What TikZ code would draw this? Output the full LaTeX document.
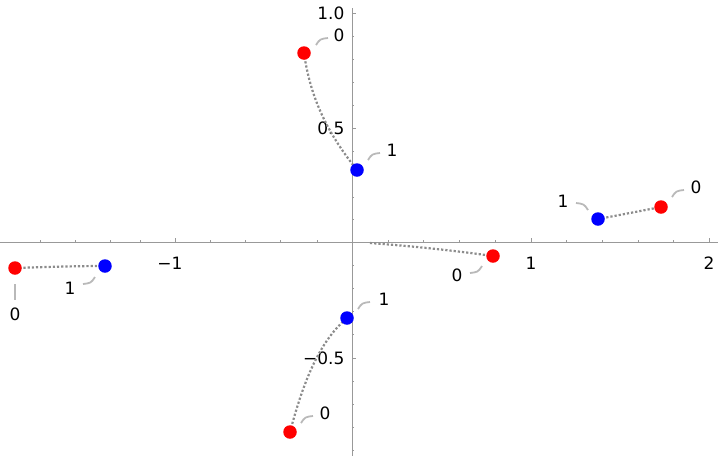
\documentclass[tikz,border=0pt]{standalone}
\usepackage{fontspec}
\setmainfont{DejaVu Sans}
\begin{document}
\begin{tikzpicture}[x=1pt,y=-1pt,
  red/.style={circle,fill={rgb,255:red,255;green,0;blue,0},inner sep=0pt,minimum size=13.5pt},
  blue/.style={circle,fill={rgb,255:red,0;green,0;blue,255},inner sep=0pt,minimum size=13.5pt},
  trail/.style={line width=2.2pt,dotted,color=gray!90},
  lead/.style={line width=1.8pt,color=gray!55},
  lab/.style={font=\fontsize{17}{17}\selectfont},
  ax/.style={color=gray!80,line width=0.6pt}]
\useasboundingbox (0,0) rectangle (720,456);
% axes
\draw[ax] (0,242) -- (718,242);
\draw[ax] (352,8) -- (352,456);
\foreach \x in {175,531,709}{\draw[ax] (\x,242) -- (\x,238);}
\foreach \x in {40,75,110,140,210,245,280,317,388,423,459,495,566,602,638,673}{\draw[ax] (\x,242) -- (\x,240);}
\foreach \y in {13,128,358}{\draw[ax] (352,\y) -- (356,\y);}
\foreach \y in {36,59,82,105,151,174,197,219,265,288,311,334,381,404,427,450}{\draw[ax] (352,\y) -- (354,\y);}
\node[lab] (tm1) at (170,263) {−1};
\node[lab] (t1) at (531,263) {1};
\node[lab] (t2) at (709,263) {2};
\node[lab,anchor=east] (ty1) at (348,13) {1.0};
\node[lab,anchor=east] (ty05) at (348,128) {0.5};
\node[lab,anchor=east] (tym05) at (348,358) {−0.5};
% trails
\coordinate (o) at (370,243);
\coordinate (r1) at (15,268);
\coordinate (b1) at (105,266);
\coordinate (r2) at (304,53);
\coordinate (b2) at (357,170);
\coordinate (r3) at (661,207);
\coordinate (b3) at (598,219);
\coordinate (r4) at (493,256);
\coordinate (r5) at (290,432);
\coordinate (b5) at (347,318);
\draw[trail] (r1) .. controls (45,267) and (75,266) .. (b1);
\draw[trail] (r2) .. controls (310,95) and (325,130) .. (b2);
\draw[trail] (b3) .. controls (620,215) and (640,211) .. (r3);
\draw[trail] (o) .. controls (410,246) and (450,250) .. (r4);
\draw[trail] (r5) .. controls (300,395) and (315,345) .. (b5);
\node[red] (R1) at (r1) {}; \node[blue] (B1) at (b1) {};
\node[red] (R2) at (r2) {}; \node[blue] (B2) at (b2) {};
\node[red] (R3) at (r3) {}; \node[blue] (B3) at (b3) {};
\node[red] (R4) at (r4) {};
\node[red] (R5) at (r5) {}; \node[blue] (B5) at (b5) {};
% labels
\node[lab] (l2) at (339,35) {0};
\draw[lead] (316,45) .. controls (320,39) .. (328,38);
\node[lab] (lb2) at (392,150) {1};
\draw[lead] (368,160) .. controls (372,154) .. (380,153);
\node[lab] (l3) at (696,187) {0};
\draw[lead] (672,197) .. controls (676,191) .. (684,190);
\node[lab] (lb3) at (563,201) {1};
\draw[lead] (588,210) .. controls (584,204) .. (576,203);
\node[lab] (l4) at (457,275) {0};
\draw[lead] (482,266) .. controls (478,272) .. (470,273);
\node[lab] (lb1) at (70,288) {1};
\draw[lead] (95,277) .. controls (91,283) .. (83,284);
\node[lab] (l1) at (15,314) {0};
\draw[lead] (15,284) -- (15,300);
\node[lab] (lb5) at (384,299) {1};
\draw[lead] (358,309) .. controls (362,303) .. (370,302);
\node[lab] (l5) at (325,413) {0};
\draw[lead] (301,423) .. controls (305,417) .. (313,416);
\end{tikzpicture}
\end{document}
